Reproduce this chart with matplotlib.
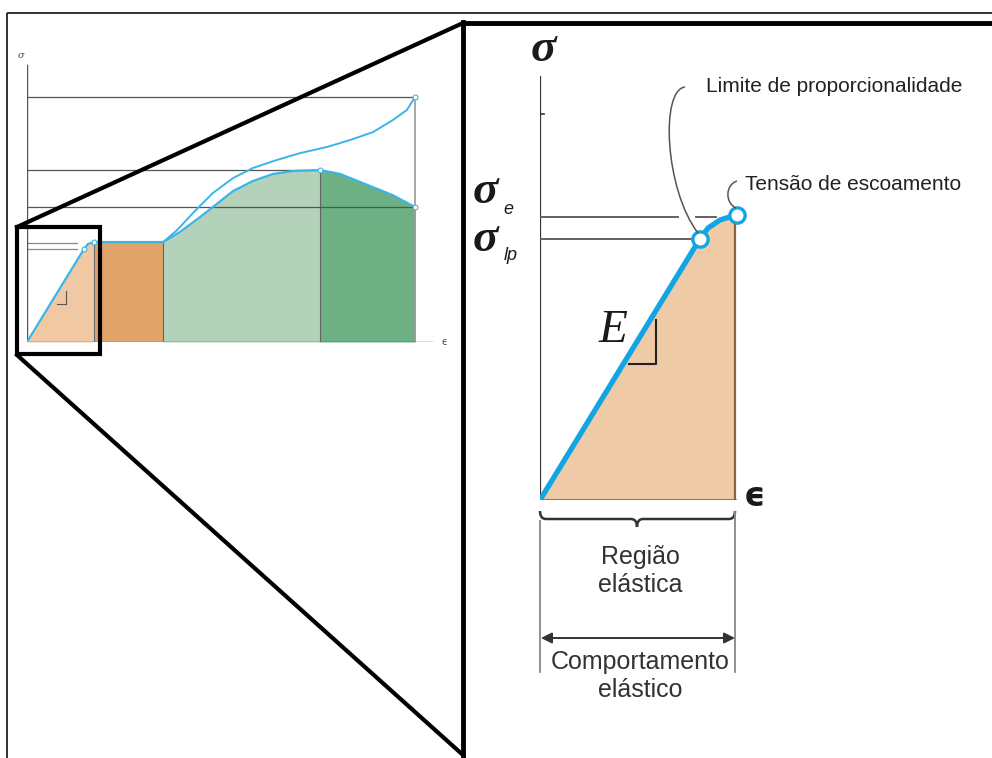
import matplotlib.pyplot as plt
import numpy as np
from matplotlib.path import Path
from matplotlib.patches import PathPatch, Rectangle, FancyArrowPatch

# ---- small overview chart (units: strain 0..100, stress 0..100) ----
eng_eps = [0, 14.7, 15.7, 17.3, 35.1, 39.4, 44.6, 47.9, 53.1, 58.2, 63.4, 68.6, 75.5,
           80.7, 87.6, 94.3, 100]
eng_sig = [0, 38.0, 40.0, 40.8, 40.8, 44.9, 51.0, 55.1, 61.6, 65.7, 68.6, 69.8, 70.2,
           68.6, 64.2, 59.9, 55.1]
true_eps = [35.1, 38.7, 42.8, 47.9, 53.1, 58.2, 64.4, 70.4, 77.3, 83.2, 89.2, 94.3, 97.9, 100]
true_sig = [40.8, 45.7, 52.7, 60.8, 66.9, 71.0, 74.3, 77.1, 79.6, 82.4, 85.7, 90.6, 94.7, 100]
region_edges = [0, 17.3, 35.1, 75.5, 100]
region_colors = ['#f0c9a4', '#e2a36a', '#b3d2b9', '#6db083']
ref_levels = [100, 70.2, 55.1]          # horizontal guide lines
ref_ends = [100, 75.5, 100]
small_levels = [40.4, 38.0]
key_pts_eps = [14.7, 17.3, 75.5, 100, 100]
key_pts_sig = [38.0, 40.8, 70.2, 55.1, 100]

# ---- zoomed elastic chart (units: strain 0..1, stress 0..1) ----
el_eps = [0, 0.82, 0.862, 0.923, 0.974, 1.01]
el_sig = [0, 0.913, 0.951, 0.979, 0.990, 0.997]
fill_eps = [0, 0.82, 0.862, 0.923, 0.974, 1.0, 1.0]
fill_sig = [0, 0.913, 0.951, 0.979, 0.990, 0.994, 0]
sig_lp, eps_lp = 0.913, 0.82
sig_e, eps_e = 0.99, 1.01

W, H = 992, 758
fig = plt.figure(figsize=(9.92, 7.58), dpi=100)
fig.patch.set_facecolor('white')


def px_axes(l, t, r, b):
    return fig.add_axes([l / W, 1 - b / H, (r - l) / W, (b - t) / H])


blue_s = '#3bb5e8'
blue = '#12a5e4'
grey = '#555555'

# small chart
ax1 = px_axes(27, 342 - 115 * 2.45, 27 + 106 * 3.88, 342)
ax1.set_xlim(0, 106)
ax1.set_ylim(0, 115)
ax1.axis('off')
e = np.array(eng_eps)
s = np.array(eng_sig)
for i in range(4):
    m = (e >= region_edges[i]) & (e <= region_edges[i + 1])
    ax1.fill_between(e[m], 0, s[m], color=region_colors[i], lw=0)
for xb in region_edges[1:4]:
    ax1.plot([xb, xb], [0, np.interp(xb, e, s)], color='#666666', lw=0.8)
ax1.plot([100, 100], [0, 100], color='#999999', lw=1.2)
for lv, xe in zip(ref_levels, ref_ends):
    ax1.plot([0, xe], [lv, lv], color=grey, lw=0.9)
for lv in small_levels:
    ax1.plot([0, 13], [lv, lv], color='#888888', lw=0.9)
ax1.plot([0, 0], [0, 113], color=grey, lw=1.0)
ax1.plot([0, 104.5], [0, 0], color=grey, lw=1.0)
ax1.plot([7.7, 10], [15.5, 15.5], color=grey, lw=0.8)
ax1.plot([10, 10], [15.5, 20.8], color=grey, lw=0.8)
ax1.plot(eng_eps, eng_sig, color=blue_s, lw=1.6, solid_joinstyle='round')
ax1.plot(true_eps, true_sig, color=blue_s, lw=1.4, solid_joinstyle='round')
ax1.plot(key_pts_eps, key_pts_sig, 'o', ms=3.5, mfc='white', mec=blue_s, mew=0.8)
ax1.text(-1.5, 117, 'σ', fontsize=7, style='italic', family='DejaVu Serif',
         color='#444444', ha='center', va='center')
ax1.text(107.5, 0, 'ϵ', fontsize=7, color='#444444', ha='center', va='center')

# zoomed chart
ax2 = px_axes(540, 500 - 1.6 * 286, 540 + 1.25 * 195, 500)
ax2.set_xlim(0, 1.25)
ax2.set_ylim(0, 1.6)
ax2.axis('off')
ax2.fill(fill_eps, fill_sig, color='#efcaa6', lw=0)
ax2.plot([1.0, 1.0], [0, 0.994], color='#8c6239', lw=1.6)
ax2.plot([0, 1.0], [0, 0], color='#6b5b4b', lw=1.8)
ax2.plot([0, 0], [0, 1.479], color='#333333', lw=1.6)
ax2.plot([0, 0.02], [1.35, 1.35], color='#333333', lw=1.2)
ax2.plot([0, eps_lp], [sig_lp, sig_lp], color=grey, lw=1.3)
ax2.plot([0, 0.707], [sig_e, sig_e], color=grey, lw=1.3)
ax2.plot([0.8, 0.9], [sig_e, sig_e], color=grey, lw=1.3)
ax2.plot([0.456, 0.595, 0.595], [0.476, 0.476, 0.629], color='#222222', lw=1.5)
ax2.plot(el_eps, el_sig, color=blue, lw=3.8, solid_capstyle='round')
ax2.plot([eps_lp, eps_e], [sig_lp, sig_e + 0.007], 'o', ms=11, mfc='white', mec=blue,
         mew=2.4)

# overlay in pixel coordinates: frames, zoom lines, labels
ov = fig.add_axes([0, 0, 1, 1])
ov.set_xlim(0, W)
ov.set_ylim(H, 0)
ov.axis('off')
ov.patch.set_alpha(0)
ov.add_patch(Rectangle((7, 13), 1000, 760, fill=False, ec='#222222', lw=1.3))
ov.plot([463, 995], [23, 23], color='black', lw=3.5)
ov.plot([463, 463], [22, 760], color='black', lw=3.5)
ov.plot([463, 17], [23, 227], color='black', lw=3.0)
ov.plot([17, 463], [355, 755], color='black', lw=3.0)
ov.add_patch(Rectangle((17, 227), 83, 127, fill=False, ec='black', lw=3.0))

# leader curves
lead1 = Path([(685, 87), (660, 90), (665, 190), (698, 233)],
             [Path.MOVETO, Path.CURVE4, Path.CURVE4, Path.CURVE4])
ov.add_patch(PathPatch(lead1, fill=False, ec='#555555', lw=1.1))
lead2 = Path([(737, 181), (725, 185), (725, 203), (736, 208)],
             [Path.MOVETO, Path.CURVE4, Path.CURVE4, Path.CURVE4])
ov.add_patch(PathPatch(lead2, fill=False, ec='#555555', lw=1.1))

# brace under the elastic region
brace = Path([(540, 511), (540, 519), (546, 519), (546, 519),
              (631, 519), (631, 519), (637, 519), (637, 527),
              (637, 519), (643, 519), (643, 519),
              (729, 519), (729, 519), (735, 519), (735, 511)],
             [Path.MOVETO, Path.CURVE3, Path.CURVE3, Path.LINETO,
              Path.LINETO, Path.LINETO, Path.CURVE3, Path.CURVE3,
              Path.CURVE3, Path.CURVE3, Path.LINETO,
              Path.LINETO, Path.LINETO, Path.CURVE3, Path.CURVE3])
ov.add_patch(PathPatch(brace, fill=False, ec='#333333', lw=1.8))
ov.plot([540, 540], [521, 672], color='#888888', lw=1.3)
ov.plot([735, 735], [512, 672], color='#888888', lw=1.3)
ov.add_patch(FancyArrowPatch((541, 638), (735, 638), arrowstyle='<|-|>',
                             mutation_scale=16, color='#333333', lw=1.4,
                             shrinkA=0, shrinkB=0))

sans = 'Liberation Sans'
ov.text(706, 87, 'Limite de proporcionalidade', fontsize=15, family=sans,
        color='#222222', ha='left', va='center')
ov.text(745, 185, 'Tensão de escoamento', fontsize=15, family=sans,
        color='#222222', ha='left', va='center')
for txt, yy in [('Região', 557), ('elástica', 585), ('Comportamento', 662), ('elástico', 690)]:
    ov.text(640, yy, txt, fontsize=18, family=sans, color='#333333',
            ha='center', va='center')

serif = 'Liberation Serif'
ov.text(543, 50, 'σ', fontsize=34, family=serif, style='italic', weight='bold',
        color='#1a1a1a', ha='center', va='center')
ov.text(485, 192, 'σ', fontsize=34, family=serif, style='italic', weight='bold',
        color='#1a1a1a', ha='center', va='center')
ov.text(503, 209, 'e', fontsize=13, family=sans, style='italic', color='#1a1a1a',
        ha='left', va='center')
ov.text(485, 240, 'σ', fontsize=34, family=serif, style='italic', weight='bold',
        color='#1a1a1a', ha='center', va='center')
ov.text(504, 256, 'lp', fontsize=13, family=sans, style='italic', color='#1a1a1a',
        ha='left', va='center')
ov.text(613, 331, 'E', fontsize=34, family=serif, style='italic', color='#1a1a1a',
        ha='center', va='center')
ov.text(755, 497, 'ϵ', fontsize=24, family='DejaVu Sans', weight='bold',
        color='#1a1a1a', ha='center', va='center')

fig.savefig('out.png', dpi=100)
